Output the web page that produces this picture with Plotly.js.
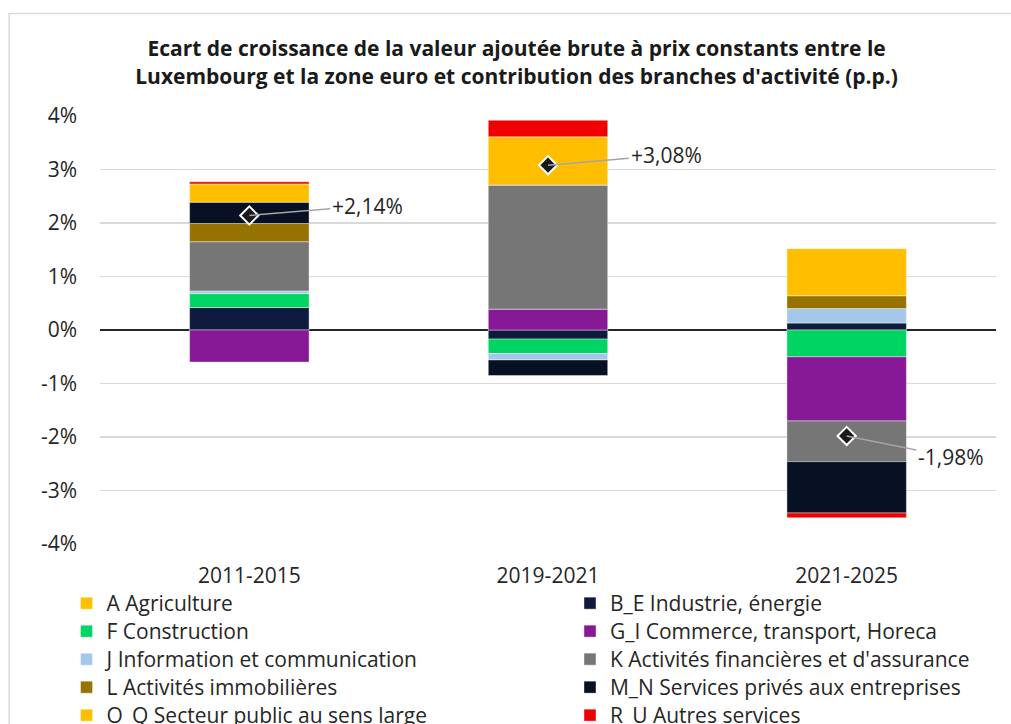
<!DOCTYPE html>
<html>
<head>
<meta charset="utf-8">
<script src="https://cdn.plot.ly/plotly-3.0.1.min.js"></script>
<style>html,body{margin:0;padding:0;background:#fff;}#chart{width:1011px;height:724px;}</style>
</head>
<body>
<div id="chart"></div>
<script>
var periods = ['2011-2015', '2019-2021', '2021-2025'];

var seriesNames = [
  'A Agriculture',
  'B_E Industrie, énergie',
  'F Construction',
  'G_I Commerce, transport, Horeca',
  'J Information et communication',
  "K Activités financières et d'assurance",
  'L Activités immobilières',
  'M_N Services privés aux entreprises',
  'O_Q Secteur public au sens large',
  'R_U Autres services'
];

var A_agri   = [0.00, 0.00, 0.00];
var BE_ind   = [0.42, -0.17, 0.13];
var F_cons   = [0.26, -0.27, -0.50];
var GI_comm  = [-0.60, 0.39, -1.20];
var J_info   = [0.05, -0.12, 0.27];
var K_fin    = [0.92, 2.32, -0.76];
var L_immo   = [0.34, 0.00, 0.24];
var MN_serv  = [0.40, -0.29, -0.96];
var OQ_pub   = [0.34, 0.90, 0.88];
var RU_autre = [0.04, 0.31, -0.09];

var totals = [2.14, 3.08, -1.98];

var yTickVals = [-4, -3, -2, -1, 0, 1, 2, 3, 4];
var yTickText = ['-4%', '-3%', '-2%', '-1%', '0%', '1%', '2%', '3%', '4%'];

var seriesValues = [A_agri, BE_ind, F_cons, GI_comm, J_info, K_fin, L_immo, MN_serv, OQ_pub, RU_autre];
var seriesColors = ['#FFC000', '#0E1B3F', '#00D563', '#871896', '#A5C8EA', '#767676', '#967300', '#081024', '#FFBF00', '#F00000'];

var FONT = 'Open Sans, Noto Sans, sans-serif';

// plot-area geometry (pixels)
var W = 1011, H = 724, ML = 99.5, MR = 14.5, MT = 116, MB = 180;
var PW = W - ML - MR, PH = H - MT - MB;
function px2x(px) { return (px - ML) / PW; }
function px2y(py) { return (H - MB - py) / PH; }

function legendId(i) { return i === 0 ? 'legend' : 'legend' + (i + 1); }

var traces = seriesValues.map(function (vals, i) {
  return {
    type: 'bar',
    name: seriesNames[i],
    x: periods,
    y: vals,
    width: 0.4,
    legend: legendId(i),
    marker: { color: seriesColors[i], line: { color: 'rgba(255,255,255,0.55)', width: 0.75 } },
    hoverinfo: 'name+y'
  };
});

traces.push({
  type: 'scatter',
  mode: 'markers',
  x: periods,
  y: totals,
  showlegend: false,
  marker: { symbol: 'diamond', size: 14, color: '#1A1A1A', line: { color: '#FFFFFF', width: 2 } },
  hoverinfo: 'y'
});

function fmt(v) {
  return (v > 0 ? '+' : '') + v.toFixed(2).replace('.', ',') + '%';
}

var offsets = [[118, -10], [118, -10], [104, 21]];
var annotations = totals.map(function (v, i) {
  return {
    x: periods[i], y: v, xref: 'x', yref: 'y',
    text: fmt(v),
    showarrow: true, arrowhead: 0, arrowwidth: 1.5, arrowcolor: '#A6A6A6',
    ax: offsets[i][0], ay: offsets[i][1], standoff: 0,
    font: { family: FONT, size: 21, color: '#262626' }
  };
});

var layout = {
  width: W, height: H,
  paper_bgcolor: '#FFFFFF', plot_bgcolor: '#FFFFFF',
  margin: { l: ML, r: MR, t: MT, b: MB, autoexpand: false },
  barmode: 'relative',
  font: { family: FONT, color: '#262626' },
  title: {
    text: "<b>Ecart de croissance de la valeur ajoutée brute à prix constants entre le<br>Luxembourg et la zone euro et contribution des branches d'activité (p.p.)</b>",
    font: { family: FONT, size: 21, color: '#1A1A1A' },
    xref: 'container', x: 0.511, xanchor: 'center',
    yref: 'container', y: 0.922, yanchor: 'top'
  },
  xaxis: {
    type: 'category',
    range: [-0.5, 2.5],
    showgrid: false, showline: false, zeroline: false,
    ticks: '',
    tickfont: { family: FONT, size: 21, color: '#262626' },
    ticklabelstandoff: 17
  },
  yaxis: {
    range: [-4, 4],
    tickvals: yTickVals, ticktext: yTickText,
    showgrid: true, gridcolor: '#D9D9D9', gridwidth: 1.5,
    zeroline: true, zerolinecolor: '#262626', zerolinewidth: 1.5,
    showline: false, ticks: '',
    tickfont: { family: FONT, size: 21, color: '#262626' },
    ticklabelstandoff: 22
  },
  shapes: [{
    type: 'rect', xref: 'paper', yref: 'paper',
    x0: px2x(8.5), x1: px2x(1030), y0: px2y(740), y1: px2y(13.5),
    line: { color: '#D9D9D9', width: 1.5 }, fillcolor: 'rgba(0,0,0,0)', layer: 'below'
  }],
  annotations: annotations,
  showlegend: true
};

// one legend per entry, laid out in two columns of five rows
var colLeft = [66, 570];
for (var i = 0; i < seriesNames.length; i++) {
  var col = i % 2, row = Math.floor(i / 2);
  layout[legendId(i)] = {
    orientation: 'v',
    x: px2x(colLeft[col]), xanchor: 'left', xref: 'paper',
    y: px2y(603 + 28 * row - 20), yanchor: 'top', yref: 'paper',
    font: { family: FONT, size: 21, color: '#262626' },
    bgcolor: 'rgba(0,0,0,0)',
    itemclick: false
  };
}

Plotly.newPlot('chart', traces, layout, { staticPlot: true, displayModeBar: false });
</script>
</body>
</html>
